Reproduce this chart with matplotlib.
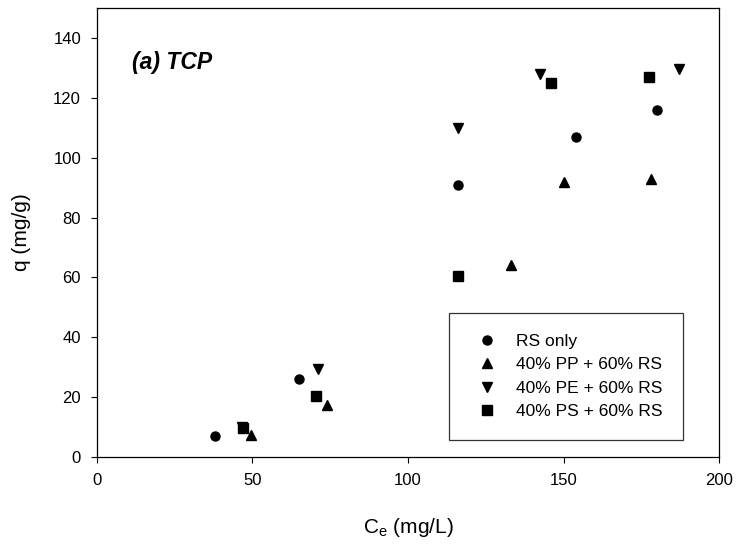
import matplotlib
matplotlib.use('Agg')
import matplotlib.pyplot as plt

plt.rcParams['font.family'] = ['Liberation Sans', 'DejaVu Sans']

# data
rs_x = [38, 65, 116, 154, 180]
rs_y = [7, 26, 91, 107, 116]
pp_x = [49.5, 74, 133, 150, 178]
pp_y = [7.5, 17.5, 64, 92, 93]
pe_x = [46.5, 71, 116, 142.5, 187]
pe_y = [10, 29.5, 110, 128, 129.5]
ps_x = [47, 70.5, 116, 146, 177.5]
ps_y = [9.6, 20.3, 60.5, 125, 127]

labels = ['RS only', '40% PP + 60% RS', '40% PE + 60% RS', '40% PS + 60% RS']

fig = plt.figure(figsize=(7.37, 5.44), dpi=100)
ax = fig.add_axes([0.1316, 0.16, 0.8440, 0.825])

ax.plot(rs_x, rs_y, 'o', color='black', ms=6.5, ls='none', label=labels[0])
ax.plot(pp_x, pp_y, '^', color='black', ms=7.5, ls='none', label=labels[1])
ax.plot(pe_x, pe_y, 'v', color='black', ms=7.5, ls='none', label=labels[2])
ax.plot(ps_x, ps_y, 's', color='black', ms=6.5, ls='none', label=labels[3])

ax.set_xlim(0, 200)
ax.set_ylim(0, 150)
ax.set_xticks([0, 50, 100, 150, 200])
ax.set_yticks([0, 20, 40, 60, 80, 100, 120, 140])
ax.tick_params(direction='out', length=4.5, width=0.8, labelsize=12, pad=7,
               top=False, right=False)
for s in ax.spines.values():
    s.set_linewidth(0.9)

ax.set_xlabel('C$_\\mathregular{e}$ (mg/L)', fontsize=15, labelpad=20)
ax.set_ylabel('q (mg/g)', fontsize=15, labelpad=16)

ax.text(0.056, 0.88, '(a) TCP', transform=ax.transAxes, fontsize=16.5,
        fontweight='bold', fontstyle='italic', va='center', ha='left')

leg = ax.legend(loc='upper left', bbox_to_anchor=(0.566, 0.321), fontsize=12.5,
                frameon=True, fancybox=False, edgecolor='black', borderpad=1.2,
                handletextpad=0.7, labelspacing=0.48, borderaxespad=0,
                handlelength=1.95)
leg.get_frame().set_linewidth(0.9)

fig.savefig('out.png', dpi=100)
